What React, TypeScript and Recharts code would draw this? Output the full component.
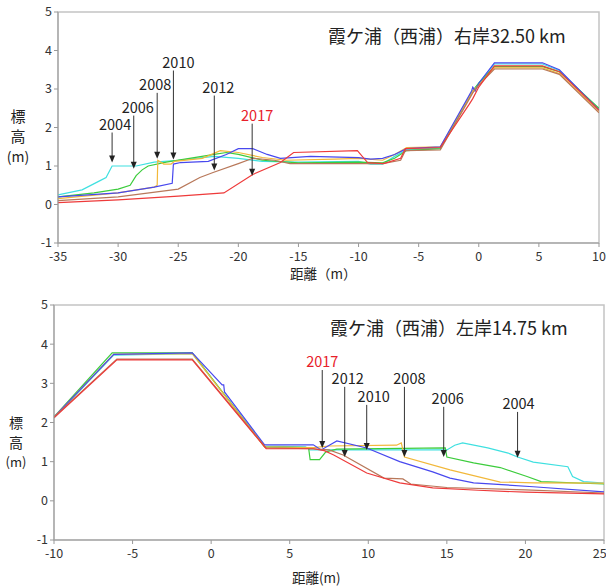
import React from 'react';
import { LineChart, Line, XAxis, YAxis, ReferenceLine, ReferenceArea } from 'recharts';

type Pt = [number, number];

// 右岸32.50km
const R_2004: Pt[] = [[-35,0.25],[-33,0.38],[-31.5,0.62],[-31,0.7],[-30.5,1.0],[-28.5,1.0],[-27,1.1],[-25,1.15],[-22,1.25],[-20,1.2],[-18,1.12],[-15,1.1],[-10,1.12],[-9,1.05],[-8,1.05],[-7,1.25],[-6,1.42],[-3.2,1.47],[-0.5,2.95],[0,3.15],[1.3,3.65],[5.3,3.65],[6.7,3.48],[10,2.48]];
const R_2006: Pt[] = [[-35,0.2],[-32,0.3],[-30,0.4],[-29,0.5],[-28.5,0.75],[-28,0.9],[-27.5,1.0],[-26,1.1],[-22,1.3],[-21,1.35],[-20,1.3],[-18,1.15],[-15,1.08],[-10,1.1],[-8,1.08],[-7,1.2],[-6,1.4],[-3.2,1.45],[-0.5,2.95],[0,3.15],[1.3,3.58],[5.3,3.58],[6.7,3.45],[10,2.5]];
const R_2008: Pt[] = [[-35,0.15],[-30,0.3],[-27,0.45],[-26.75,0.5],[-26.7,1.15],[-26.2,1.05],[-25.6,1.05],[-25.3,1.12],[-23,1.2],[-21.5,1.4],[-20,1.35],[-18,1.22],[-16,1.15],[-12,1.18],[-10,1.2],[-8,1.15],[-7,1.3],[-6,1.48],[-3.2,1.5],[-0.5,2.95],[0,3.1],[1.3,3.55],[5.3,3.55],[6.7,3.4],[10,2.42]];
const R_2010: Pt[] = [[-35,0.2],[-30,0.3],[-27,0.45],[-25.5,0.55],[-25.4,1.05],[-24.8,1.09],[-22.5,1.12],[-21,1.3],[-20,1.45],[-18.8,1.45],[-17.6,1.3],[-16.5,1.2],[-14,1.25],[-10,1.22],[-9,1.18],[-8,1.2],[-7,1.3],[-6,1.45],[-3.2,1.5],[-0.6,2.95],[-0.5,3.05],[-0.3,2.95],[0,3.15],[1.3,3.68],[5.3,3.68],[6.7,3.5],[10,2.45]];
const R_2012: Pt[] = [[-35,0.1],[-30,0.2],[-25,0.4],[-23.2,0.7],[-22.1,0.83],[-20,1.06],[-18.8,1.2],[-17,1.15],[-15.7,1.06],[-10,1.06],[-8,1.06],[-6.5,1.15],[-6.1,1.4],[-3.2,1.42],[-0.5,2.9],[0,3.1],[1.3,3.52],[5.3,3.52],[6.7,3.38],[10,2.38]];
const R_2017: Pt[] = [[-35,0.05],[-30,0.12],[-25,0.22],[-21.2,0.3],[-18.8,0.78],[-16.5,1.09],[-15.4,1.35],[-10.1,1.4],[-9.25,1.09],[-7.9,1.06],[-6.5,1.2],[-6.1,1.45],[-3.2,1.48],[-0.8,2.6],[-0.5,2.75],[0,3.05],[1.3,3.6],[5.3,3.6],[6.7,3.45],[10,2.45]];

// 左岸14.75km
const L_2004: Pt[] = [[-10,2.12],[-6.2,3.72],[-1.2,3.76],[3.4,1.4],[6,1.38],[6.3,1.3],[7.5,1.3],[15,1.3],[15.5,1.42],[16,1.48],[17.6,1.35],[18.9,1.22],[19.5,1.12],[20.5,0.99],[22.7,0.87],[23,0.62],[23.7,0.49],[25,0.45]];
const L_2006: Pt[] = [[-10,2.14],[-6.3,3.78],[-1.2,3.78],[3.4,1.38],[6.2,1.36],[6.3,1.05],[6.9,1.05],[7.3,1.25],[8,1.32],[14.9,1.35],[15,1.12],[16.7,0.97],[18.4,0.85],[20.1,0.62],[21,0.49],[25,0.43]];
const L_2008: Pt[] = [[-10,2.14],[-6.2,3.74],[-1.2,3.76],[3.4,1.38],[6.5,1.36],[7.5,1.4],[11.8,1.42],[12.1,1.48],[12.3,1.12],[15.2,0.79],[18.4,0.48],[20.5,0.46],[25,0.45]];
const L_2010: Pt[] = [[-10,2.14],[-6.2,3.74],[-1.2,3.78],[0.7,2.96],[0.8,2.96],[0.85,2.78],[3.4,1.43],[6.5,1.43],[7,1.3],[8,1.53],[9.9,1.35],[12,1.0],[14.1,0.74],[15.2,0.58],[16.7,0.46],[20.5,0.36],[25,0.23]];
const L_2012: Pt[] = [[-10,2.14],[-6,3.62],[-1.2,3.62],[3.5,1.35],[6.5,1.33],[7.5,1.3],[8.4,1.17],[11,0.58],[12.2,0.56],[12.7,0.43],[15,0.34],[20,0.28],[25,0.2]];
const L_2017: Pt[] = [[-10,2.12],[-6,3.6],[-1.2,3.6],[3.5,1.33],[6.5,1.33],[7.2,1.28],[7.8,1.17],[9.9,0.71],[12,0.46],[14.1,0.33],[17,0.27],[20,0.22],[25,0.18]];

const YEARS = ['2004', '2006', '2008', '2010', '2012', '2017'];
const RIGHT_SERIES = [R_2004, R_2006, R_2008, R_2010, R_2012, R_2017];
const LEFT_SERIES = [L_2004, L_2006, L_2008, L_2010, L_2012, L_2017];

const Y_TICKS = [-1, 0, 1, 2, 3, 4, 5];
const RIGHT_X_TICKS = [-35, -30, -25, -20, -15, -10, -5, 0, 5, 10];
const LEFT_X_TICKS = [-10, -5, 0, 5, 10, 15, 20, 25];

// arrow notes: year, arrow x, arrow top y, arrow tip y
const RIGHT_NOTES: [string, number, number, number][] = [
  ['2004', -30.5, 1.87, 1.09],
  ['2006', -28.7, 2.31, 0.93],
  ['2008', -26.75, 2.9, 1.19],
  ['2010', -25.4, 3.48, 1.17],
  ['2012', -22, 2.83, 0.88],
  ['2017', -18.85, 2.1, 0.75],
];
const LEFT_NOTES: [string, number, number, number][] = [
  ['2017', 7.07, 3.34, 1.35],
  ['2012', 8.5, 2.91, 1.12],
  ['2010', 9.9, 2.45, 1.3],
  ['2008', 12.3, 2.91, 1.12],
  ['2006', 14.8, 2.4, 1.12],
  ['2004', 19.5, 2.27, 1.1],
];
const RIGHT_DX = [3, 4, -2, 5, 4, 5];
const LEFT_DX = [0, 3, 7, 5, 4, 1];

const COLORS: Record<string, string> = {
  '2004': '#3fe0e0',
  '2006': '#3ccc3c',
  '2008': '#f2b83a',
  '2010': '#4848ee',
  '2012': '#b8785a',
  '2017': '#ee3a3a',
};

const FONT = '"Noto Sans CJK JP", "Noto Sans", sans-serif';

const toRows = (pts: Pt[]) => pts.map(([x, y]) => ({ x, y }));

const arrow = (label: string, dx: number) => (props: any) => {
  const { x1, y1, x2, y2 } = props;
  const top = Math.min(y1, y2);
  const tip = Math.max(y1, y2);
  return (
    <g>
      <line x1={x1} y1={top} x2={x2} y2={tip - 6} stroke="#333" strokeWidth={1} />
      <polygon points={`${x2 - 3},${tip - 7} ${x2 + 3},${tip - 7} ${x2},${tip}`} fill="#222" />
      <text x={x1 + dx} y={top - 3} textAnchor="middle" fontSize={14.5} fontFamily={FONT}
        fill={label === '2017' ? '#e8202a' : '#222'}>
        {label}
      </text>
    </g>
  );
};

interface PanelProps {
  series: Pt[][];
  notes: [string, number, number, number][];
  dx: number[];
  xTicks: number[];
  width: number;
  height: number;
  margin: { top: number; right: number; bottom: number; left: number };
}

const Panel: React.FC<PanelProps> = ({ series, notes, dx, xTicks, width, height, margin }) => {
  const x0 = xTicks[0];
  const x1 = xTicks[xTicks.length - 1];
  return (
    <LineChart width={width} height={height} margin={margin}>
      <ReferenceArea x1={x0} x2={x1} y1={-1} y2={5} fill="none" stroke="#c4c4c4" strokeWidth={1.5} ifOverflow="visible" />
      <XAxis type="number" dataKey="x" domain={[x0, x1]} ticks={xTicks} allowDataOverflow
        tick={{ fill: '#333', fontSize: 12.5, fontFamily: FONT }} stroke="#999" tickSize={4} tickMargin={5} height={30} />
      <YAxis type="number" domain={[-1, 5]} ticks={Y_TICKS} allowDataOverflow width={40}
        tick={{ fill: '#333', fontSize: 12.5, fontFamily: FONT }} stroke="#999" tickSize={4} />
      {series.map((pts, i) => (
        <Line key={YEARS[i]} data={toRows(pts)} dataKey="y" type="linear" stroke={COLORS[YEARS[i]]}
          strokeWidth={1.2} dot={false} isAnimationActive={false} />
      ))}
      {notes.map(([label, x, yTop, yTip], i) => (
        <ReferenceLine key={label} segment={[{ x, y: yTop }, { x, y: yTip }]} shape={arrow(label, dx[i])} ifOverflow="visible" />
      ))}
    </LineChart>
  );
};

const textStyle: React.CSSProperties = { position: 'absolute', fontFamily: FONT, color: '#222', whiteSpace: 'nowrap' };

const YLabel: React.FC<{ left: number; top: number; size: number }> = ({ left, top, size }) => (
  <div style={{ ...textStyle, left, top, fontSize: size, lineHeight: '20px', textAlign: 'center', width: 28 }}>
    <div>標</div>
    <div>高</div>
    <div style={{ fontSize: size - 1 }}>(m)</div>
  </div>
);

export default function App() {
  return (
    <div style={{ position: 'absolute', left: 0, top: 0, width: 606, height: 586, background: '#fff', overflow: 'hidden' }}>
      <div style={{ position: 'absolute', left: 0, top: 0 }}>
        <Panel series={RIGHT_SERIES} notes={RIGHT_NOTES} dx={RIGHT_DX} xTicks={RIGHT_X_TICKS}
          width={606} height={290} margin={{ top: 12, right: 7, bottom: 17, left: 18 }} />
      </div>
      <div style={{ position: 'absolute', left: 0, top: 290 }}>
        <Panel series={LEFT_SERIES} notes={LEFT_NOTES} dx={LEFT_DX} xTicks={LEFT_X_TICKS}
          width={606} height={296} margin={{ top: 15, right: 2, bottom: 16, left: 14 }} />
      </div>
      <div style={{ ...textStyle, left: 328, top: 22, fontSize: 18 }}>霞ケ浦（西浦）右岸32.50 km</div>
      <div style={{ ...textStyle, left: 330, top: 314, fontSize: 18 }}>霞ケ浦（西浦）左岸14.75 km</div>
      <YLabel left={4} top={106} size={15} />
      <YLabel left={2} top={412} size={14} />
      <div style={{ ...textStyle, left: 290, top: 265, fontSize: 13.5, lineHeight: '16px' }}>距離（m）</div>
      <div style={{ ...textStyle, left: 292, top: 569, fontSize: 13.5, lineHeight: '16px' }}>距離(m)</div>
    </div>
  );
}
